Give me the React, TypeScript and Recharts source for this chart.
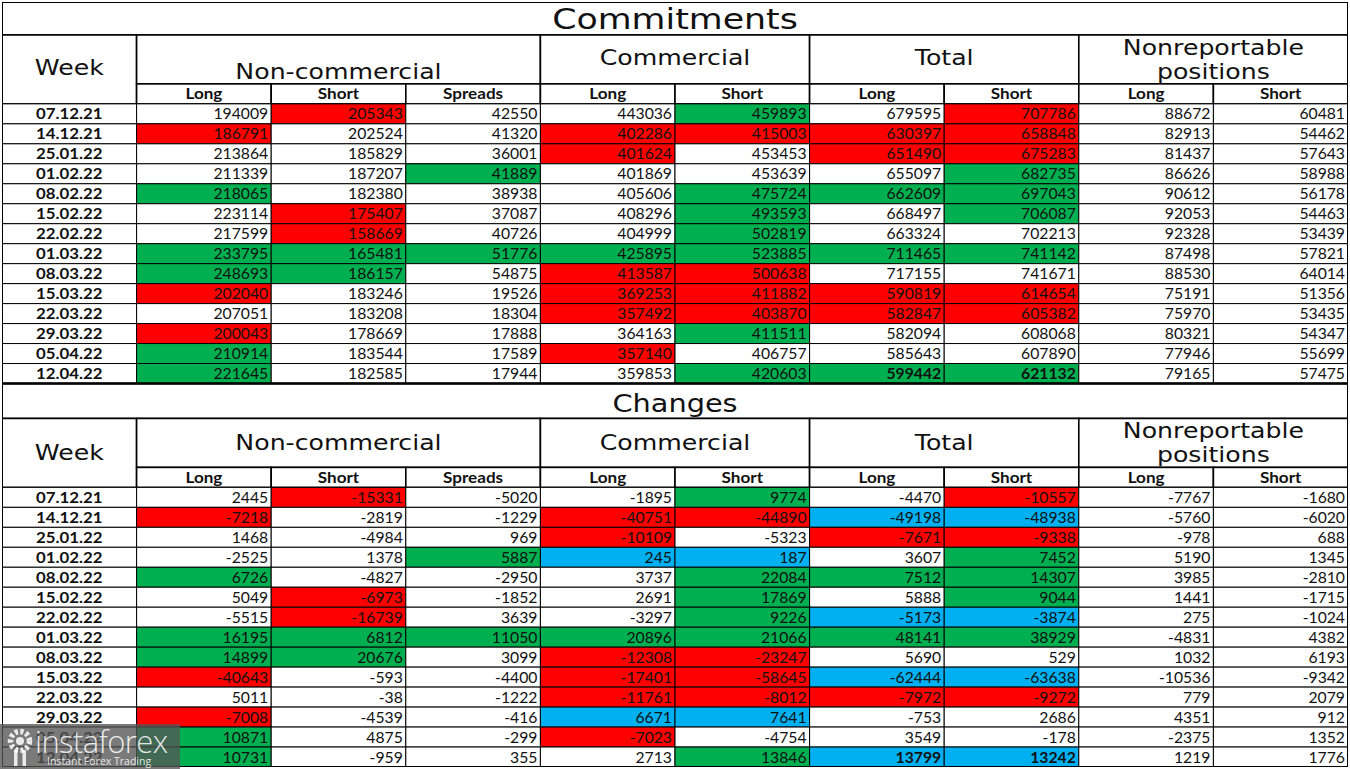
import React from "react";
import { ScatterChart, Scatter, XAxis, YAxis } from "recharts";

const sectionTitles = ["Commitments", "Changes"];
const groupLabels = [["Non-commercial"], ["Commercial"], ["Total"], ["Nonreportable", "positions"]];
const groupSpans = [3, 2, 2, 2];
const subLabels = ["Long", "Short", "Spreads", "Long", "Short", "Long", "Short", "Long", "Short"];

const weeks = [
  "07.12.21", "14.12.21", "25.01.22", "01.02.22", "08.02.22", "15.02.22", "22.02.22",
  "01.03.22", "08.03.22", "15.03.22", "22.03.22", "29.03.22", "05.04.22", "12.04.22",
];

const commitNcLong = [194009, 186791, 213864, 211339, 218065, 223114, 217599, 233795, 248693, 202040, 207051, 200043, 210914, 221645];
const commitNcShort = [205343, 202524, 185829, 187207, 182380, 175407, 158669, 165481, 186157, 183246, 183208, 178669, 183544, 182585];
const commitNcSpreads = [42550, 41320, 36001, 41889, 38938, 37087, 40726, 51776, 54875, 19526, 18304, 17888, 17589, 17944];
const commitCLong = [443036, 402286, 401624, 401869, 405606, 408296, 404999, 425895, 413587, 369253, 357492, 364163, 357140, 359853];
const commitCShort = [459893, 415003, 453453, 453639, 475724, 493593, 502819, 523885, 500638, 411882, 403870, 411511, 406757, 420603];
const commitTLong = [679595, 630397, 651490, 655097, 662609, 668497, 663324, 711465, 717155, 590819, 582847, 582094, 585643, 599442];
const commitTShort = [707786, 658848, 675283, 682735, 697043, 706087, 702213, 741142, 741671, 614654, 605382, 608068, 607890, 621132];
const commitNrLong = [88672, 82913, 81437, 86626, 90612, 92053, 92328, 87498, 88530, 75191, 75970, 80321, 77946, 79165];
const commitNrShort = [60481, 54462, 57643, 58988, 56178, 54463, 53439, 57821, 64014, 51356, 53435, 54347, 55699, 57475];

// one char per value column: r red, g green, b blue, . none (upper case = bold)
const commitMarks = [
  ".r..g.r..", "r..rrrr..", "...r.rr..", "..g...g..", "g...ggg..", ".r..g.g..", ".r..g....",
  "ggggggg..", "gg.rr....", "r..rrrr..", "...rrrr..", "r...g....", "g..r.....", "g...gGG..",
];

const chNcLong = [2445, -7218, 1468, -2525, 6726, 5049, -5515, 16195, 14899, -40643, 5011, -7008, 10871, 10731];
const chNcShort = [-15331, -2819, -4984, 1378, -4827, -6973, -16739, 6812, 20676, -593, -38, -4539, 4875, -959];
const chNcSpreads = [-5020, -1229, 969, 5887, -2950, -1852, 3639, 11050, 3099, -4400, -1222, -416, -299, 355];
const chCLong = [-1895, -40751, -10109, 245, 3737, 2691, -3297, 20896, -12308, -17401, -11761, 6671, -7023, 2713];
const chCShort = [9774, -44890, -5323, 187, 22084, 17869, 9226, 21066, -23247, -58645, -8012, 7641, -4754, 13846];
const chTLong = [-4470, -49198, -7671, 3607, 7512, 5888, -5173, 48141, 5690, -62444, -7972, -753, 3549, 13799];
const chTShort = [-10557, -48938, -9338, 7452, 14307, 9044, -3874, 38929, 529, -63638, -9272, 2686, -178, 13242];
const chNrLong = [-7767, -5760, -978, 5190, 3985, 1441, 275, -4831, 1032, -10536, 779, 4351, -2375, 1219];
const chNrShort = [-1680, -6020, 688, 1345, -2810, -1715, -1024, 4382, 6193, -9342, 2079, 912, 1352, 1776];

const changeMarks = [
  ".r..g.r..", "r..rrbb..", "...r.rr..", "..gbb.g..", "g...ggg..", ".r..g.g..", ".r..gbb..",
  "ggggggg..", "gg.rr....", "r..rrbb..", "...rrrr..", "r..bb....", "g..r.....", "g...gBB..",
];

const commitCols = [commitNcLong, commitNcShort, commitNcSpreads, commitCLong, commitCShort, commitTLong, commitTShort, commitNrLong, commitNrShort];
const changeCols = [chNcLong, chNcShort, chNcSpreads, chCLong, chCShort, chTLong, chTShort, chNrLong, chNrShort];

// layout, in data-row units
const W = 1350;
const H = 769;
const M = { top: 2, right: 2, bottom: 2, left: 2 };
const TITLE_H = [1.65, 1.75];
const TITLE_SIZE = [29, 24];
const TITLE_DY = [11, 11.5];
const HEAD_H = 2.45;
const SUB_H = 1;
const TOTAL = TITLE_H[0] + TITLE_H[1] + 2 * (HEAD_H + SUB_H + weeks.length);
const PX_X = (W - M.left - M.right) / 10;
const PX_Y = (H - M.top - M.bottom) / TOTAL;
const headShift = [[12, -2, -2, 0], [0, 0, 0, 0]];
const weekShift = [-2, 0];

const FILLS: Record<string, string> = { r: "#FF0000", g: "#00B050", b: "#00B0F0" };
const HEAD_FONT = "'DejaVu Sans', Verdana, sans-serif";
const NUM_FONT = "Lato, 'Open Sans', sans-serif";

type Cell = { x: number; y: number; w: number; h: number; kind: string; lines: string[]; fill?: string; bold?: boolean; dy?: number; size?: number };

const cells: Cell[] = [];
const frames: Cell[] = [];
let top = 0;
[commitCols, changeCols].forEach((cols, s) => {
  const marks = s === 0 ? commitMarks : changeMarks;
  const tH = TITLE_H[s];
  const secH = tH + HEAD_H + SUB_H + weeks.length;
  cells.push({ x: 5, y: top + tH / 2, w: 10, h: tH, kind: "title", lines: [sectionTitles[s]], size: TITLE_SIZE[s], dy: TITLE_DY[s] });
  cells.push({ x: 0.5, y: top + tH + (HEAD_H + SUB_H) / 2, w: 1, h: HEAD_H + SUB_H, kind: "head", lines: ["Week"], dy: weekShift[s] });
  let c = 1;
  groupLabels.forEach((lines, g) => {
    cells.push({ x: c + groupSpans[g] / 2, y: top + tH + HEAD_H / 2, w: groupSpans[g], h: HEAD_H, kind: "head", lines, dy: headShift[s][g] });
    c += groupSpans[g];
  });
  subLabels.forEach((lab, i) => {
    cells.push({ x: i + 1.5, y: top + tH + HEAD_H + SUB_H / 2, w: 1, h: SUB_H, kind: "sub", lines: [lab] });
  });
  const dataTop = top + tH + HEAD_H + SUB_H;
  weeks.forEach((wk, r) => {
    cells.push({ x: 0.5, y: dataTop + r + 0.5, w: 1, h: 1, kind: "date", lines: [wk] });
    cols.forEach((col, i) => {
      const m = marks[r][i];
      cells.push({
        x: i + 1.5, y: dataTop + r + 0.5, w: 1, h: 1, kind: "num", lines: [String(col[r])],
        fill: FILLS[m.toLowerCase()], bold: m !== "." && m === m.toUpperCase(),
      });
    });
  });
  frames.push({ x: 5, y: top + secH / 2, w: 10, h: secH, kind: "frame", lines: [] });
  top += secH;
});

const CellShape = (props: any) => {
  const { cx, cy, payload } = props;
  const p = payload as Cell;
  const w = p.w * PX_X;
  const h = p.h * PX_Y;
  const x0 = cx - w / 2;
  const y0 = cy - h / 2;
  if (p.kind === "frame") {
    return <rect x={x0} y={y0} width={w} height={h} fill="none" stroke="#000" strokeWidth={2} />;
  }
  const rect = (
    <rect x={x0} y={y0} width={w} height={h} fill={p.fill || "#fff"} stroke="#000"
      strokeWidth={p.kind === "num" || p.kind === "date" ? 1 : 1.6} />
  );
  let label: React.ReactNode = null;
  if (p.kind === "title") {
    label = (
      <text transform={`translate(${cx} ${cy + (p.dy || 0)}) scale(1.2 1)`} textAnchor="middle"
        fontFamily={HEAD_FONT} fontSize={p.size} fill="#111">{p.lines[0]}</text>
    );
  } else if (p.kind === "head") {
    const n = p.lines.length;
    label = p.lines.map((ln, i) => (
      <text key={i} transform={`translate(${cx} ${cy + (p.dy || 0) + 7.5 + (i - (n - 1) / 2) * 24}) scale(1.2 1)`}
        textAnchor="middle" fontFamily={HEAD_FONT} fontSize={21} fill="#111">{ln}</text>
    ));
  } else if (p.kind === "sub") {
    label = (
      <text transform={`translate(${cx} ${cy + 5.5}) scale(1.14 1)`} textAnchor="middle"
        fontFamily={NUM_FONT} fontWeight={700} fontSize={15} fill="#111">{p.lines[0]}</text>
    );
  } else if (p.kind === "date") {
    label = (
      <text transform={`translate(${cx} ${cy + 5.5}) scale(1.12 1)`} textAnchor="middle"
        fontFamily={NUM_FONT} fontWeight={700} fontSize={15} fill="#111">{p.lines[0]}</text>
    );
  } else {
    label = (
      <text transform={`translate(${x0 + w - 3} ${cy + 5.5}) scale(1.05 1)`} textAnchor="end"
        fontFamily={NUM_FONT} fontWeight={p.bold ? 700 : 400} fontSize={15} fill="#111">{p.lines[0]}</text>
    );
  }
  return (
    <g>
      {rect}
      {label}
    </g>
  );
};

function Watermark() {
  return (
    <div style={{ position: "absolute", left: 0, top: 724, width: 180, height: 45, background: "rgba(85,85,85,0.78)", color: "rgba(255,255,255,0.85)", overflow: "hidden" }}>
      <svg width={34} height={44} style={{ position: "absolute", left: 4, top: 2 }}>
        <circle cx={16} cy={15} r={9.5} fill="none" stroke="rgba(255,255,255,0.85)" strokeWidth={5.5} strokeDasharray="3.2 2.4" />
        <circle cx={16} cy={15} r={4} fill="rgba(255,255,255,0.85)" />
        <rect x={10} y={24} width={3.5} height={16} fill="rgba(255,255,255,0.85)" />
        <rect x={18.5} y={24} width={3.5} height={16} fill="rgba(255,255,255,0.85)" />
      </svg>
      <div style={{ position: "absolute", left: 35, top: -3, fontSize: 31, lineHeight: "40px", fontFamily: "'Open Sans', sans-serif", fontWeight: 300, letterSpacing: -0.6 }}>instaforex</div>
      <div style={{ position: "absolute", left: 47, top: 31, fontSize: 10.5, lineHeight: "13px", fontFamily: "'Open Sans', sans-serif" }}>Instant Forex Trading</div>
    </div>
  );
}

export default function App() {
  return (
    <div style={{ position: "absolute", left: 0, top: 0, width: W, height: H, background: "#fff" }}>
      <ScatterChart width={W} height={H} margin={M}>
        <XAxis type="number" dataKey="x" domain={[0, 10]} allowDataOverflow hide />
        <YAxis type="number" dataKey="y" domain={[0, TOTAL]} allowDataOverflow reversed hide />
        <Scatter data={cells} shape={CellShape} isAnimationActive={false} />
        <Scatter data={frames} shape={CellShape} isAnimationActive={false} />
      </ScatterChart>
      <Watermark />
    </div>
  );
}
